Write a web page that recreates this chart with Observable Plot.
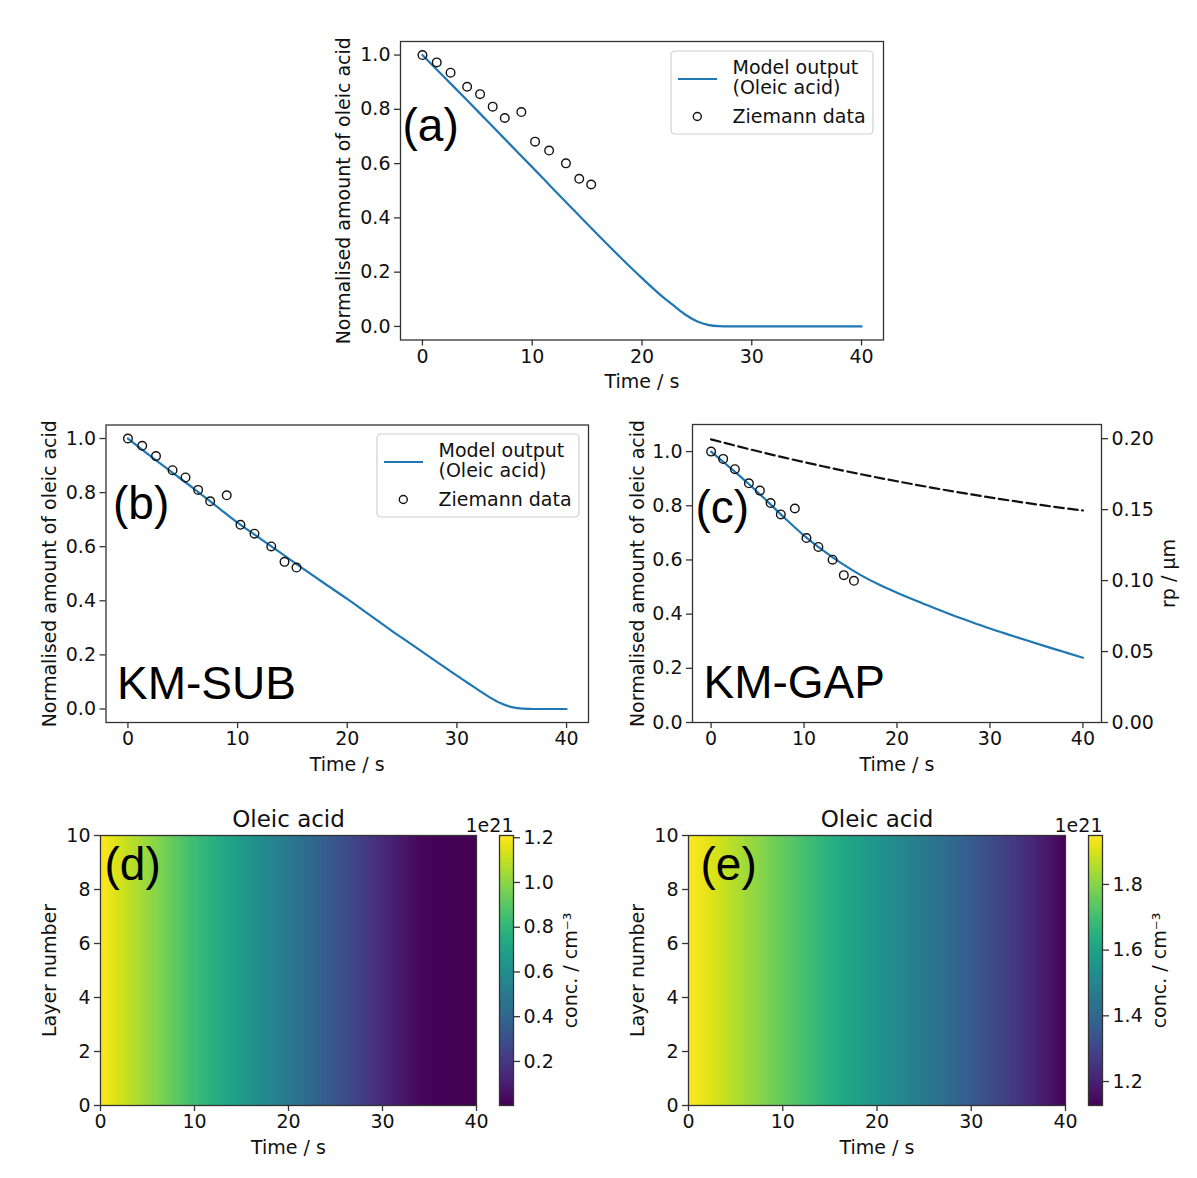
<!DOCTYPE html>
<html>
<head>
<meta charset="utf-8">
<script src="https://cdn.jsdelivr.net/npm/d3@7"></script>
<script src="https://cdn.jsdelivr.net/npm/@observablehq/plot@0.6"></script>
<style>
  html, body { margin: 0; padding: 0; background: #fff; }
  #fig { position: relative; width: 1197px; height: 1178px; background: #fff; overflow: hidden; }
</style>
</head>
<body>
<div id="fig"></div>
<script>
// ---------------- data ----------------
// Ziemann experimental data (same in panels a, b, c)
const ziemannTime  = [0, 1.3, 2.56, 4.07, 5.25, 6.4, 7.5, 9.01, 10.26, 11.54, 13.07, 14.28, 15.37];
const ziemannValue = [1.0, 0.973, 0.935, 0.883, 0.856, 0.81, 0.768, 0.79, 0.681, 0.648, 0.601, 0.544, 0.523];

// (a) model output
const aTime  = [0, 2, 4, 6, 8, 10, 12, 14, 16, 18, 20, 22, 23, 24, 25, 26, 27, 28, 30, 32, 34, 36, 38, 40];
const aValue = [1.0, 0.918, 0.836, 0.753, 0.67, 0.587, 0.503, 0.42, 0.337, 0.256, 0.178, 0.105, 0.073, 0.042, 0.019, 0.006, 0.001, 0, 0, 0, 0, 0, 0, 0];

// (b) KM-SUB model output
const bTime  = [0, 2, 4, 6, 8, 10, 12, 14, 16, 18, 20, 22, 24, 26, 28, 30, 31, 32, 33, 34, 35, 36, 37, 38, 40];
const bValue = [1.0, 0.937, 0.876, 0.815, 0.752, 0.689, 0.632, 0.575, 0.518, 0.462, 0.407, 0.349, 0.291, 0.235, 0.179, 0.123, 0.096, 0.069, 0.043, 0.021, 0.007, 0.001, 0, 0, 0];

// (c) KM-GAP model output (left axis)
const cTime  = [0, 2, 4, 6, 8, 10, 12, 14, 16, 18, 20, 22, 24, 26, 28, 30, 32, 34, 36, 38, 40];
const cValue = [1.0, 0.942, 0.882, 0.818, 0.752, 0.69, 0.636, 0.588, 0.546, 0.51, 0.479, 0.45, 0.4225, 0.396, 0.371, 0.347, 0.3245, 0.3025, 0.281, 0.26, 0.239];

// (c) particle radius rp / µm (right axis, dashed)
const rpTime  = [0, 4, 8, 12, 16, 20, 24, 28, 32, 36, 40];
const rpValue = [0.1995, 0.1928, 0.1865, 0.1806, 0.1751, 0.170, 0.1652, 0.1607, 0.1566, 0.1528, 0.1494];

// (d), (e) heatmaps: concentration (x 1e21 cm^-3) vs time, uniform across layers
const hmTime = [0, 2, 4, 6, 8, 10, 12, 14, 16, 18, 20, 22, 24, 26, 28, 30, 32, 34, 36, 38, 40];
const layers = [0, 1, 2, 3, 4, 5, 6, 7, 8, 9, 10];
const dConc = [1.21, 1.134, 1.06, 0.986, 0.91, 0.834, 0.765, 0.696, 0.627, 0.559, 0.492, 0.422, 0.352, 0.284, 0.215, 0.147, 0.08, 0.025, 0.005, 0.003, 0.003];
const eConc = [1.949, 1.916, 1.875, 1.834, 1.793, 1.752, 1.711, 1.67, 1.628, 1.592, 1.555, 1.518, 1.481, 1.444, 1.403, 1.362, 1.32, 1.275, 1.23, 1.18, 1.127];

// tick values
const timeTicks  = [0, 10, 20, 30, 40];
const fracTicks  = [0, 0.2, 0.4, 0.6, 0.8, 1.0];
const rpTicks    = [0, 0.05, 0.1, 0.15, 0.2];
const layerTicks = [0, 2, 4, 6, 8, 10];
const dBarTicks  = [0.2, 0.4, 0.6, 0.8, 1.0, 1.2];
const eBarTicks  = [1.2, 1.4, 1.6, 1.8];

// texts
const legendLabels = [["Model output", "(Oleic acid)"], ["Ziemann data"]];
const panelTags = ["(a)", "(b)", "(c)", "(d)", "(e)"];
const modelNames = ["KM-SUB", "KM-GAP"];
const xLabel = "Time / s";
const yLabel = "Normalised amount of oleic acid";
const rpLabel = "rp / μm";
const layerLabel = "Layer number";
const concLabel = "conc. / cm⁻³";
const heatTitle = "Oleic acid";
const offsetLabel = "1e21";

// ---------------- drawing ----------------
const fig = document.getElementById("fig");
const BLUE = "#1f77b4";
const INK = "#333";
const TXT = "#111";
const FS = 19;
const TAGFONT = "'Liberation Sans', Arial, sans-serif";
const STYLE = {fontFamily: "'DejaVu Sans', sans-serif", fontSize: FS + "px", color: TXT, background: "transparent", overflow: "visible", maxWidth: "none"};

const rows = (xs, ys) => xs.map((t, i) => ({t, v: ys[i]}));
const ziemann = rows(ziemannTime, ziemannValue);

function dims(box, frame) {
  const [bx, by, bw, bh] = box;
  const [fl, ft, fr, fb] = frame;
  return {width: bw, height: bh, marginLeft: fl - bx, marginTop: ft - by, marginRight: bx + bw - fr, marginBottom: by + bh - fb};
}
function place(svg, box) {
  svg.style.position = "absolute";
  svg.style.left = box[0] + "px";
  svg.style.top = box[1] + "px";
  fig.appendChild(svg);
}
const axX = (ticks, fmt) => Plot.axisX({ticks, tickFormat: fmt, label: null, tickSize: 6, tickPadding: 3, stroke: INK, strokeWidth: 1.3, fontSize: FS, fill: TXT});
const axY = (ticks, fmt, anchor = "left") => Plot.axisY({anchor, ticks, tickFormat: fmt, label: null, tickSize: 6, tickPadding: 4, stroke: INK, strokeWidth: 1.3, fontSize: FS, fill: TXT});
const txt = (s, opts) => Plot.text([s], {text: d => d, fill: TXT, fontSize: FS, ...opts});
const vlabel = (s, frameAnchor, dx) => txt(s, {frameAnchor, rotate: -90, textAnchor: "middle", lineAnchor: "middle", dx});
const tag = (s, dx, dy) => txt(s, {frameAnchor: "top-left", textAnchor: "start", lineAnchor: "middle", dx, dy, fontFamily: TAGFONT, fontSize: 46, fill: "#000"});

function legend(left, top) {
  const ns = "http://www.w3.org/2000/svg";
  const s = document.createElementNS(ns, "svg");
  s.setAttribute("width", 206); s.setAttribute("height", 88);
  s.style.position = "absolute"; s.style.left = (left - 1) + "px"; s.style.top = (top - 1) + "px";
  s.innerHTML =
    `<rect x="1" y="1" width="202" height="83" rx="4" fill="white" fill-opacity="0.8" stroke="#cfcfcf" stroke-width="1.2"/>` +
    `<line x1="8" x2="47" y1="29" y2="29" stroke="${BLUE}" stroke-width="2.2"/>` +
    `<circle cx="27.3" cy="66.5" r="4" fill="none" stroke="${TXT}" stroke-width="1.4"/>` +
    `<g font-family="'DejaVu Sans', sans-serif" font-size="${FS}" fill="${TXT}">` +
    `<text x="62.5" y="23.5">${legendLabels[0][0]}</text>` +
    `<text x="62.5" y="44">${legendLabels[0][1]}</text>` +
    `<text x="62.5" y="72.5">${legendLabels[1][0]}</text></g>`;
  fig.appendChild(s);
}

function linePanel(o) {
  const svg = Plot.plot({
    ...dims(o.box, o.frame),
    style: STYLE,
    x: {domain: [-2, 42]},
    y: {domain: o.yDomain},
    marks: [
      Plot.line(rows(o.time, o.value), {x: "t", y: "v", stroke: BLUE, strokeWidth: 2.2, curve: "monotone-x"}),
      Plot.dot(ziemann, {x: "t", y: "v", r: 4.3, stroke: TXT, strokeWidth: 1.4, fill: "none"}),
      Plot.frame({stroke: INK, strokeWidth: 1.3}),
      axX(timeTicks, "d"),
      axY(fracTicks, ".1f"),
      tag(o.tag, o.tagDx, o.tagDy),
      ...(o.model ? [tag(o.model, o.modelDx, o.modelDy)] : []),
      txt(xLabel, {frameAnchor: "bottom", lineAnchor: "middle", dy: 42}),
      vlabel(yLabel, "left", o.yLabelDx)
    ]
  });
  place(svg, o.box);
}

// (a)
linePanel({box: [300, 20, 600, 385], frame: [400, 41, 883, 339.5], time: aTime, value: aValue, yDomain: [-0.05, 1.05],
  tag: panelTags[0], tagDx: 2, tagDy: 85, yLabelDx: -57});
legend(671, 50.5);

// (b)
linePanel({box: [0, 405, 600, 380], frame: [105.5, 424.5, 588, 722], time: bTime, value: bValue, yDomain: [-0.05, 1.05],
  tag: panelTags[1], tagDx: 7, tagDy: 79, model: modelNames[0], modelDx: 11, modelDy: 259, yLabelDx: -56});
legend(377, 434);

// (c) left axis
const cBox = [600, 405, 597, 380], cFrame = [692, 424, 1101, 722];
linePanel({box: cBox, frame: cFrame, time: cTime, value: cValue, yDomain: [0, 1.1],
  tag: panelTags[2], tagDx: 3, tagDy: 84, model: modelNames[1], modelDx: 11, modelDy: 259, yLabelDx: -55});
// (c) right axis overlay
place(Plot.plot({
  ...dims(cBox, cFrame),
  style: STYLE,
  x: {domain: [-2, 42], axis: null},
  y: {domain: [0, 0.21]},
  marks: [
    Plot.line(rows(rpTime, rpValue), {x: "t", y: "v", stroke: "#111", strokeWidth: 2.2, strokeDasharray: "9.5,4.5", curve: "monotone-x"}),
    axY(rpTicks, ".2f", "right"),
    vlabel(rpLabel, "right", 67)
  ]
}), cBox);

// heatmaps + colorbars
function heatPanel(o) {
  const ext = d3.extent(o.conc);
  const color = {type: "linear", scheme: "viridis", domain: ext};
  const data = hmTime.flatMap((t, i) => layers.map(l => ({t, layer: l, c: o.conc[i]})));
  place(Plot.plot({
    ...dims(o.box, o.frame),
    style: STYLE,
    x: {domain: [0, 40]},
    y: {domain: [0, 10]},
    color,
    marks: [
      Plot.raster(data, {x: "t", y: "layer", fill: "c", interpolate: "barycentric"}),
      Plot.frame({stroke: INK, strokeWidth: 1.3}),
      axX(timeTicks, "d"),
      axY(layerTicks, "d"),
      txt(heatTitle, {frameAnchor: "top", textAnchor: "middle", lineAnchor: "middle", dy: -16, fontSize: 23}),
      tag(o.tag, o.tagDx, 30),
      txt(xLabel, {frameAnchor: "bottom", lineAnchor: "middle", dy: 42}),
      vlabel(layerLabel, "left", -51)
    ]
  }), o.box);
  place(Plot.plot({
    ...dims(o.barBox, o.barFrame),
    style: STYLE,
    x: {domain: [0, 1], axis: null},
    y: {domain: ext},
    color,
    marks: [
      Plot.raster({fill: (x, y) => y, x1: 0, x2: 1, y1: ext[0], y2: ext[1]}),
      Plot.frame({stroke: INK, strokeWidth: 1.3}),
      axY(o.barTicks, ".1f", "right"),
      txt(offsetLabel, {frameAnchor: "top-right", textAnchor: "end", lineAnchor: "middle", dy: -10}),
      vlabel(concLabel, "right", 57)
    ]
  }), o.barBox);
}

heatPanel({box: [0, 790, 490, 388], frame: [100, 835, 476, 1105], conc: dConc, tag: panelTags[3], tagDx: 4,
  barBox: [490, 790, 110, 388], barFrame: [499, 835, 513, 1105], barTicks: dBarTicks});
heatPanel({box: [600, 790, 478, 388], frame: [688, 835, 1065, 1105], conc: eConc, tag: panelTags[4], tagDx: 12,
  barBox: [1078, 790, 119, 388], barFrame: [1088, 835, 1102, 1105], barTicks: eBarTicks});
</script>
</body>
</html>
